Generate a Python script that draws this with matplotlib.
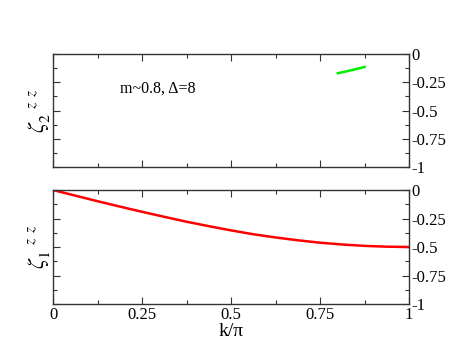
import matplotlib
matplotlib.use("Agg")
import matplotlib.pyplot as plt
from matplotlib.ticker import MultipleLocator

# zeta_2^zz branch (green, upper panel)
k_upper = [0.80, 0.84, 0.875]
zeta2 = [-0.170, -0.142, -0.115]

# zeta_1^zz branch (red, lower panel)
k_lower = [0.0, 0.0625, 0.125, 0.1875, 0.25, 0.3125, 0.375, 0.4375, 0.5,
           0.5625, 0.625, 0.6875, 0.75, 0.8125, 0.875, 0.9375, 1.0]
zeta1 = [0.0, -0.049, -0.098, -0.145, -0.191, -0.235, -0.278, -0.317, -0.354,
         -0.388, -0.416, -0.441, -0.462, -0.478, -0.490, -0.497, -0.500]

x_ticks = [0, 0.25, 0.5, 0.75, 1]
x_labels = ['0', '0.25', '0.5', '0.75', '1']
y_ticks = [0, -0.25, -0.5, -0.75, -1]
y_labels = ['0', '-0.25', '-0.5', '-0.75', '-1']

plt.rcParams['font.family'] = ['Liberation Serif', 'DejaVu Serif']
plt.rcParams['mathtext.fontset'] = 'stix'
plt.rcParams['axes.unicode_minus'] = False

fig = plt.figure(figsize=(4.63, 3.58), dpi=100)
ax_top = fig.add_axes([0.1145, 0.5335, 0.769, 0.3156])
ax_bot = fig.add_axes([0.1145, 0.1508, 0.769, 0.3184])


def style_axes(ax, show_x):
    ax.set_xlim(0, 1)
    ax.set_ylim(-1, 0)
    ax.set_xticks(x_ticks)
    ax.xaxis.set_minor_locator(MultipleLocator(0.125))
    ax.set_yticks(y_ticks)
    ax.set_yticklabels(y_labels)
    ax.yaxis.set_minor_locator(MultipleLocator(0.125))
    ax.tick_params(which='both', direction='in', top=True, bottom=True,
                   left=True, right=True, labelleft=False, labelright=True,
                   labelsize=12, color='#333333', width=0.8, pad=2)
    ax.tick_params(which='major', length=5)
    ax.tick_params(which='minor', length=3)
    if show_x:
        ax.set_xticklabels(x_labels)
    else:
        ax.tick_params(labelbottom=False)
    for s in ax.spines.values():
        s.set_color('#333333')
        s.set_linewidth(1.0)


style_axes(ax_top, False)
style_axes(ax_bot, True)

ax_top.plot(k_upper, zeta2, color='#00ee00', linewidth=1.8)
ax_bot.plot(k_lower, zeta1, color='#ff0000', linewidth=1.8)

ax_top.text(0.188, 0.69, 'm~0.8, Δ=8', transform=ax_top.transAxes,
            fontsize=11.5, va='center', ha='left')

ax_top.set_ylabel(r'$\zeta_2^{\quad z\;\;z}$', fontsize=16, labelpad=1)
ax_bot.set_ylabel(r'$\zeta_1^{\quad z\;\;z}$', fontsize=16, labelpad=1)
ax_bot.set_xlabel('k/π', fontsize=14, labelpad=0)

fig.savefig('out.png', dpi=100)
